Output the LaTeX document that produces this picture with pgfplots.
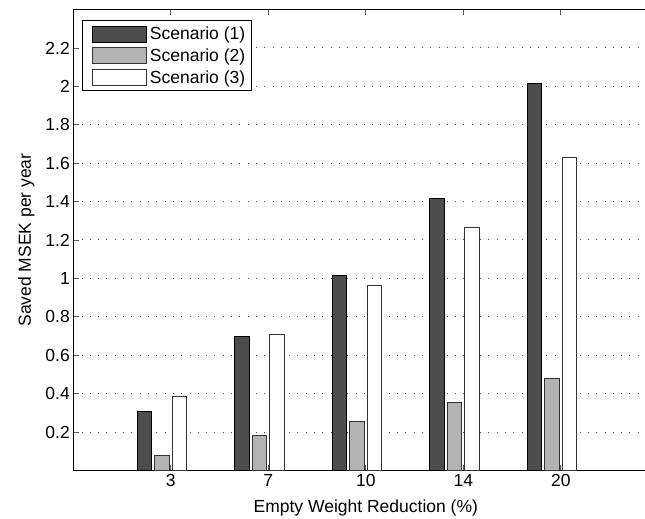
\documentclass[border=0pt]{standalone}
\usepackage{fontspec}
\setmainfont{Liberation Sans}
\usepackage{pgfplots}
\pgfplotsset{compat=1.18}
\definecolor{darkbar}{RGB}{77,77,77}
\definecolor{graybar}{RGB}{179,179,179}
\pgfplotsset{
  mylegend/.style={legend image code/.code={\path (0bp,0bp); \draw[##1] (6bp,-8bp) rectangle (60bp,8bp);}},
}
\begin{document}
\begin{tikzpicture}
\begin{axis}[
  name=ax,
  scale only axis,
  width=585bp, height=461bp,
  xmin=0, xmax=6, ymin=0, ymax=2.4,
  xtick={1,2,3,4,5}, xticklabels={3,7,10,14,20},
  ytick={0.2,0.4,0.6,0.8,1,1.2,1.4,1.6,1.8,2,2.2},
  /pgf/number format/assume math mode=true,
  font=\fontsize{17.5bp}{21bp}\selectfont,
  tick label style={font=\fontsize{17.5bp}{21bp}\selectfont},
  label style={font=\fontsize{17.5bp}{21bp}\selectfont},
  ymajorgrids,
  major grid style={black!70, line width=1bp, dash pattern=on 1bp off 7.3bp},
  tick align=inside,
  major tick length=6bp,
  tick style={black!65, line width=0.8bp},
  axis line style={black, line width=0.8bp},
  xlabel={Empty Weight Reduction (\%)},
  ylabel={Saved MSEK per year},
  xlabel style={yshift=-6.5bp},
  ylabel shift=4bp,
  legend cell align=left,
  legend style={at={(axis description cs:0,1)}, anchor=north west,
    xshift=9bp, yshift=-11bp, inner xsep=3.4bp, inner ysep=3.2bp,
    row sep=1.5bp, nodes={inner sep=3bp}, draw=black, line width=0.8bp,
    font=\fontsize{17.5bp}{21bp}\selectfont},
]
\addplot[ybar, bar width=0.148, bar shift=-0.27, fill=darkbar, draw=black, line width=0.8bp, mylegend]
  coordinates {(1,0.306) (2,0.700) (3,1.015) (4,1.418) (5,2.017)};
\addplot[ybar, bar width=0.148, bar shift=-0.09, fill=graybar, draw=black!80, line width=0.8bp, mylegend]
  coordinates {(1,0.077) (2,0.183) (3,0.256) (4,0.353) (5,0.480)};
\addplot[ybar, bar width=0.148, bar shift=0.09, fill=white, draw=black!80, line width=0.8bp, mylegend]
  coordinates {(1,0.384) (2,0.711) (3,0.966) (4,1.265) (5,1.628)};
\legend{Scenario (1), Scenario (2), Scenario (3)}
\end{axis}
\pgfresetboundingbox
\path[use as bounding box] ([xshift=-73.3bp,yshift=-48.5bp]ax.south west) rectangle ([xshift=-13.3bp,yshift=9.5bp]ax.north east);
\end{tikzpicture}
\end{document}
